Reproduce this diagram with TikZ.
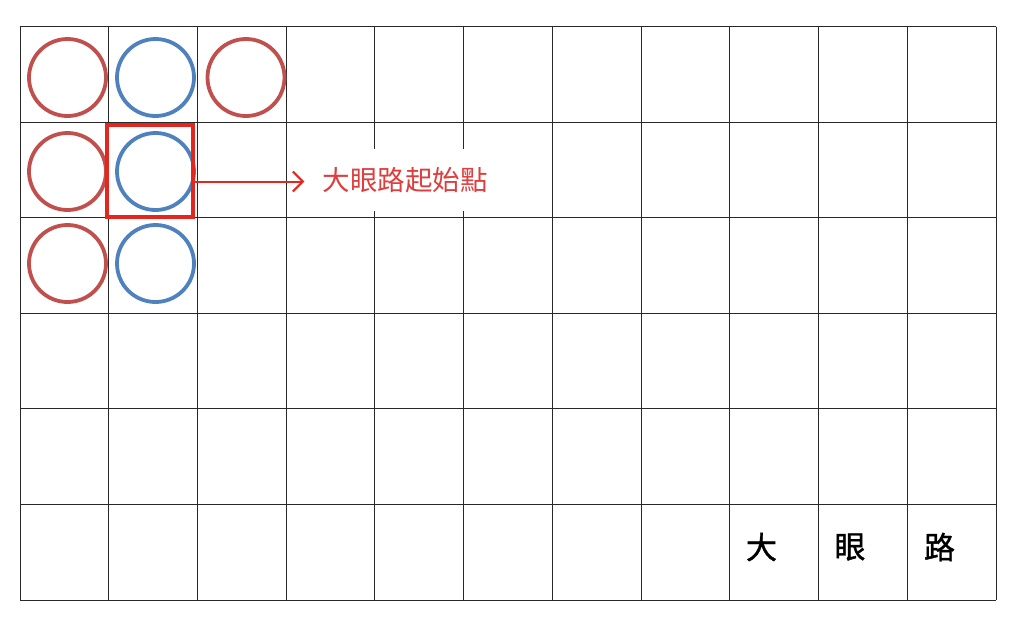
\documentclass[tikz,border=0pt]{standalone}
\usepackage{fontspec}
\newfontfamily\cjk{Noto Sans CJK TC}
\newfontfamily\cjkb[FakeBold=1.2]{Noto Sans CJK TC}
\usetikzlibrary{arrows.meta}
\definecolor{cred}{RGB}{192,80,77}
\definecolor{cblue}{RGB}{79,129,189}
\definecolor{boxred}{RGB}{228,38,30}
\definecolor{labred}{RGB}{222,62,62}
\definecolor{gridc}{RGB}{40,40,40}
\tikzset{
  redring/.style={circle,draw=cred,line width=3.8pt,minimum size=77pt,inner sep=0pt},
  bluering/.style={circle,draw=cblue,line width=3.8pt,minimum size=77pt,inner sep=0pt},
  gridline/.style={draw=gridc,line width=1pt},
  bigchar/.style={font=\cjkb\fontsize{31}{31}\selectfont,text=black,inner sep=0pt},
}
\begin{document}
\begin{tikzpicture}[x=1pt,y=-1pt]
\useasboundingbox[fill=white] (0,0) rectangle (1024,630);
% grid
\foreach \i in {0,...,11} {
  \draw[gridline] ({20+\i*88.73},26.7) -- ({20+\i*88.73},600);
}
\foreach \j in {0,...,6} {
  \draw[gridline] (20,{26.7+\j*95.55}) -- (996,{26.7+\j*95.55});
}
% rings
\node[redring]  (r1) at (67.5,77.5) {};
\node[bluering] (b1) at (155.5,77.5) {};
\node[redring]  (r2) at (246,77.5) {};
\node[redring]  (r3) at (67.5,171.5) {};
\node[bluering] (b2) at (155.5,171.5) {};
\node[redring]  (r4) at (67.5,263.5) {};
\node[bluering] (b3) at (155.5,263.5) {};
% red box
\node[draw=boxred,line width=3.2pt,minimum width=86pt,minimum height=92pt,inner sep=0pt] (box) at (150,171) {};
% label
\node[fill=white,text=labred,font=\cjk\fontsize{27.5}{27.5}\selectfont,inner xsep=11pt,inner ysep=18pt] (lab) at (405,180) {大眼路起始點};
\coordinate (a0) at ([yshift=-10.5pt]box.east);
\draw[draw=boxred,line width=2pt,-{Straight Barb[length=10pt,width=20pt,line width=2pt]}] (a0) -- ([xshift=-7pt]a0 -| lab.west);
% bottom label
\node[bigchar] (c1) at (761.5,547) {大};
\node[bigchar] (c2) at (850,547) {眼};
\node[bigchar] (c3) at (939.5,547) {路};
\end{tikzpicture}
\end{document}
